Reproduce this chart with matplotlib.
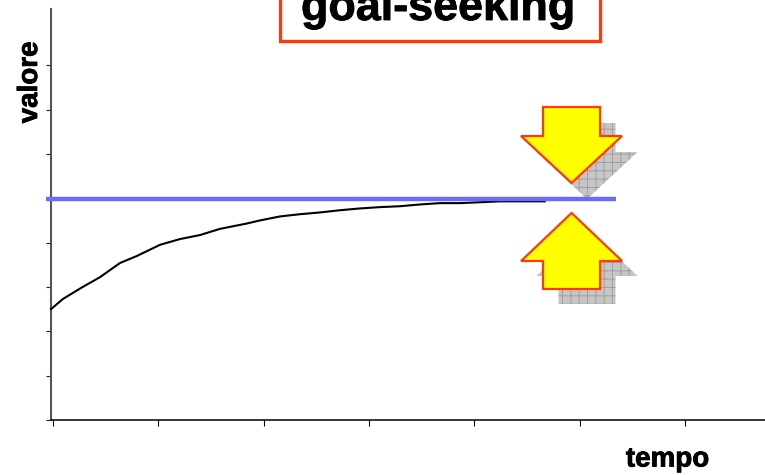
import matplotlib
matplotlib.use("Agg")
import matplotlib.pyplot as plt
import matplotlib.patheffects as pe
from matplotlib.patches import Polygon, Rectangle
from matplotlib.transforms import Affine2D

time = [-0.19, 0.95, 2.75, 4.46, 6.36, 7.98, 10.16, 12.06, 13.96, 15.86, 18.4, 19.66, 21.56,
        23.46, 25.36, 27.26, 29.15, 31.05, 32.95, 34.85, 36.75, 38.65, 40.55, 42.45, 44.35, 46.7]
value = [25.0, 27.3, 29.9, 32.2, 35.4, 37.0, 39.5, 40.8, 41.7, 43.1, 44.3, 45.0, 45.9,
         46.4, 46.8, 47.3, 47.7, 48.0, 48.2, 48.6, 48.9, 48.9, 49.1, 49.3, 49.3, 49.3]
goal_x = [-0.66, 53.5]
goal_y = [49.9, 49.9]
x_ticks = [0, 10, 20, 30, 40, 50, 60]
y_ticks = [0, 10, 20, 30, 40, 50, 60, 70, 80]

W, H = 765, 475
plt.rcParams['hatch.linewidth'] = 0.7
fig = plt.figure(figsize=(W / 100, H / 100), dpi=100)
L, R, T, B = 51, 765, 9, 420
ax = fig.add_axes([L / W, 1 - B / H, (R - L) / W, (B - T) / H])
ax.set_xlim((L - 53) / 10.53, (R - 53) / 10.53)
ax.set_ylim(0, (B - T) / 4.435)
ax.patch.set_alpha(0)
ax.spines[['top', 'right']].set_visible(False)
ax.spines['left'].set_color('#555555')
ax.spines['left'].set_linewidth(1.5)
ax.spines['bottom'].set_color('black')
ax.spines['bottom'].set_linewidth(1.1)
ax.set_xticks(x_ticks)
ax.set_yticks(y_ticks)
ax.tick_params(labelbottom=False, labelleft=False)
ax.tick_params(axis='x', length=4.5, width=0.8, direction='out')
ax.tick_params(axis='y', length=3.5, width=0.8, direction='out', color='#222222')

# pixel coordinates, y measured from the top
px = Affine2D().scale(1, -1).translate(0, H)

def arrow(pts, dx=0, dy=0, **kw):
    p = Polygon([(x + dx, y + dy) for x, y in pts], closed=True, transform=px, **kw)
    fig.add_artist(p)
    return p

down = [(543, 107), (600, 107), (600, 136), (622, 136), (571.5, 183), (521, 136), (543, 136)]
up = [(571.5, 213), (622, 261), (600, 261), (600, 289), (543, 289), (543, 261), (521, 261)]
shadow = dict(facecolor='#c6c6c6', edgecolor='#a0a0a0', linewidth=0, hatch='++', zorder=1)
arrow(down, 15.5, 16, **shadow)
arrow(up, 15.5, 15, **shadow)

ax.plot(time, value, color='black', lw=1.5, zorder=3, clip_on=False)
ax.plot(goal_x, goal_y, color='#6a6aff', lw=3.2, zorder=4, clip_on=False, solid_capstyle='butt')
ax.set_zorder(2)

face = dict(facecolor='#ffff00', edgecolor='#ff3a0a', linewidth=1.6, joinstyle='miter', zorder=5)
arrow(down, **face)
arrow(up, **face)

fig.add_artist(Rectangle((279.5, -10), 320, 51, transform=px, facecolor='white',
                         edgecolor='#ff3a0a', linewidth=2.4, zorder=6))
bold = [pe.withStroke(linewidth=0.6, foreground='black')]
fig.text(438 / W, 1 - 20 / H, 'goal-seeking', ha='center', va='baseline', fontsize=32.3,
         fontweight='bold', family='Liberation Sans', color='black', zorder=7, path_effects=bold)
fig.text(30 / W, 1 - 82.5 / H, 'valore', rotation=90, ha='center', va='center', fontsize=20,
         fontweight='bold', family='Liberation Sans', path_effects=bold)
fig.text(667.5 / W, 1 - 459.5 / H, 'tempo', ha='center', va='center', fontsize=20,
         fontweight='bold', family='Liberation Sans', path_effects=bold)
fig.savefig('out.png', dpi=100)
